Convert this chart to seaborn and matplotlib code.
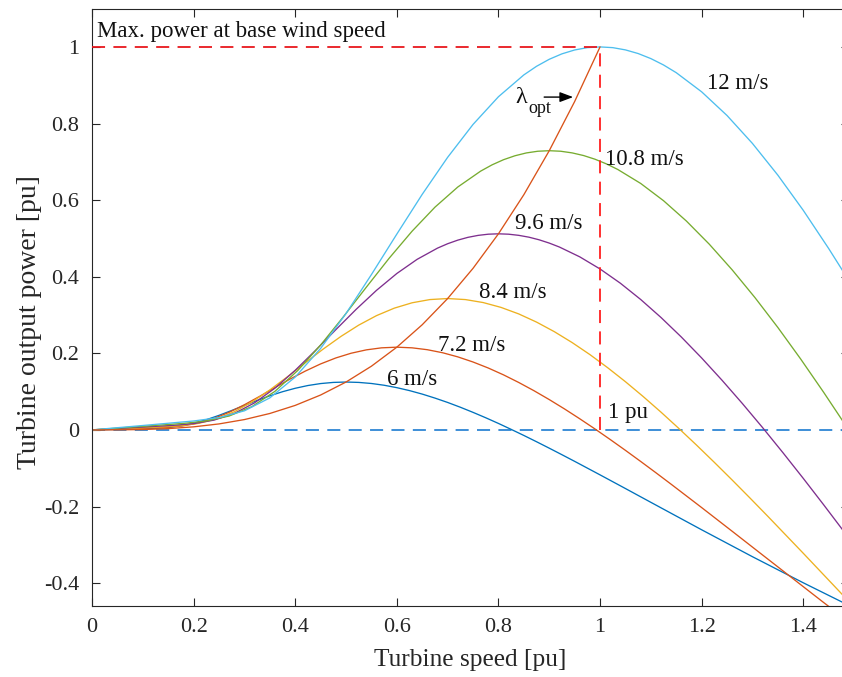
import matplotlib
matplotlib.use("Agg")
import matplotlib.pyplot as plt
import seaborn as sns
import pandas as pd

# ---------------- data ----------------
x_12 = [0, 0.1, 0.2, 0.25, 0.3, 0.35, 0.4, 0.45, 0.5, 0.55, 0.6, 0.65, 0.7, 0.75, 0.8,
        0.85, 0.875, 0.9, 0.925, 0.95, 0.975, 1.0, 1.025, 1.05, 1.075, 1.1, 1.125, 1.15,
        1.2, 1.25, 1.3, 1.35, 1.4, 1.45, 1.476, 1.5]
p_12 = [0, 0.0115, 0.0233, 0.0321, 0.0498, 0.0836, 0.1380, 0.2127, 0.3039, 0.4056, 0.5113,
        0.6151, 0.7117, 0.7976, 0.8699, 0.9269, 0.9494, 0.9677, 0.9819, 0.9920, 0.9981, 1.0,
        0.9981, 0.9922, 0.9827, 0.9695, 0.9528, 0.9327, 0.8827, 0.8208, 0.7479, 0.6651,
        0.5733, 0.4736, 0.4189, 0.3668]

x_108 = [0, 0.09, 0.18, 0.225, 0.27, 0.315, 0.36, 0.405, 0.45, 0.495, 0.54, 0.585, 0.63, 0.675,
         0.72, 0.765, 0.7875, 0.81, 0.8325, 0.855, 0.8775, 0.9, 0.9225, 0.945, 0.9675, 0.99,
         1.0125, 1.035, 1.08, 1.125, 1.17, 1.215, 1.26, 1.305, 1.35, 1.395, 1.44, 1.476, 1.5]
p_108 = [0, 0.0084, 0.0170, 0.0234, 0.0363, 0.0610, 0.1006, 0.1551, 0.2216, 0.2957, 0.3727,
         0.4484, 0.5188, 0.5815, 0.6342, 0.6757, 0.6921, 0.7055, 0.7158, 0.7232, 0.7276, 0.729,
         0.7276, 0.7233, 0.7164, 0.7068, 0.6946, 0.6799, 0.6435, 0.5984, 0.5453, 0.4849,
         0.4180, 0.3453, 0.2674, 0.1849, 0.0984, 0.0267, -0.0223]

x_96 = [0, 0.08, 0.16, 0.2, 0.24, 0.28, 0.32, 0.36, 0.4, 0.44, 0.48, 0.52, 0.56, 0.6, 0.64,
        0.68, 0.7, 0.72, 0.74, 0.76, 0.78, 0.8, 0.82, 0.84, 0.86, 0.88, 0.9, 0.92, 0.96, 1.0,
        1.04, 1.08, 1.12, 1.16, 1.2, 1.24, 1.28, 1.32, 1.36, 1.4, 1.44, 1.476, 1.5]
p_96 = [0, 0.0059, 0.0119, 0.0164, 0.0255, 0.0428, 0.0707, 0.1089, 0.1556, 0.2077, 0.2618,
        0.3149, 0.3644, 0.4084, 0.4454, 0.4746, 0.4861, 0.4955, 0.5028, 0.5079, 0.5110, 0.512,
        0.5110, 0.5080, 0.5032, 0.4964, 0.4878, 0.4775, 0.4519, 0.4202, 0.3830, 0.3405,
        0.2935, 0.2425, 0.1878, 0.1298, 0.0691, 0.0059, -0.0595, -0.1266, -0.1953, -0.2583,
        -0.3007]

x_84 = [0, 0.07, 0.14, 0.175, 0.21, 0.245, 0.28, 0.315, 0.35, 0.385, 0.42, 0.455, 0.49, 0.525,
        0.56, 0.595, 0.63, 0.665, 0.7, 0.735, 0.77, 0.805, 0.84, 0.875, 0.91, 0.945, 0.98,
        1.015, 1.05, 1.085, 1.12, 1.155, 1.19, 1.225, 1.26, 1.295, 1.33, 1.4, 1.47, 1.5]
p_84 = [0, 0.0039, 0.0080, 0.0110, 0.0171, 0.0287, 0.0473, 0.0730, 0.1043, 0.1391, 0.1754,
        0.2110, 0.2441, 0.2736, 0.2984, 0.3179, 0.3319, 0.3403, 0.343, 0.3403, 0.3325, 0.3199,
        0.3028, 0.2815, 0.2565, 0.2281, 0.1967, 0.1624, 0.1258, 0.0870, 0.0463, 0.0039,
        -0.0398, -0.0848, -0.1308, -0.1777, -0.2253, -0.3221, -0.4202, -0.4624]

x_72 = [0, 0.06, 0.12, 0.15, 0.18, 0.21, 0.24, 0.27, 0.3, 0.33, 0.36, 0.39, 0.42, 0.45, 0.48,
        0.51, 0.54, 0.57, 0.6, 0.63, 0.66, 0.69, 0.72, 0.75, 0.78, 0.81, 0.84, 0.87, 0.9, 0.93,
        0.96, 0.99, 1.02, 1.05, 1.08, 1.11, 1.14, 1.2, 1.26, 1.32, 1.44, 1.56]
p_72 = [0, 0.0025, 0.0050, 0.0069, 0.0108, 0.0181, 0.0298, 0.0460, 0.0657, 0.0876, 0.1104,
        0.1329, 0.1537, 0.1723, 0.1879, 0.2002, 0.2090, 0.2143, 0.216, 0.2143, 0.2094, 0.2015,
        0.1907, 0.1773, 0.1616, 0.1437, 0.1238, 0.1023, 0.0792, 0.0548, 0.0291, 0.0025,
        -0.0251, -0.0534, -0.0824, -0.1119, -0.1419, -0.2028, -0.2646, -0.3267, -0.4506, -0.5721]

x_6 = [0, 0.05, 0.1, 0.125, 0.15, 0.175, 0.2, 0.225, 0.25, 0.275, 0.3, 0.325, 0.35, 0.375, 0.4,
       0.425, 0.45, 0.475, 0.5, 0.525, 0.55, 0.575, 0.6, 0.625, 0.65, 0.675, 0.7, 0.725, 0.75,
       0.775, 0.8, 0.825, 0.85, 0.875, 0.9, 0.925, 0.95, 1.0, 1.05, 1.1, 1.2, 1.3, 1.4, 1.476, 1.5]
p_6 = [0, 0.0014, 0.0029, 0.0040, 0.0062, 0.0105, 0.0173, 0.0266, 0.0380, 0.0507, 0.0639,
       0.0769, 0.0890, 0.0997, 0.1087, 0.1159, 0.1210, 0.1240, 0.125, 0.1240, 0.1212, 0.1166,
       0.1103, 0.1026, 0.0935, 0.0831, 0.0717, 0.0592, 0.0458, 0.0317, 0.0169, 0.0014, -0.0145,
       -0.0309, -0.0477, -0.0648, -0.0821, -0.1174, -0.1531, -0.1891, -0.2608, -0.3311,
       -0.3992, -0.4492, -0.4647]

x_opt = [0, 0.05, 0.1, 0.15, 0.2, 0.25, 0.3, 0.35, 0.4, 0.45, 0.5, 0.55, 0.6, 0.65, 0.7, 0.75,
         0.8, 0.85, 0.9, 0.95, 1.0]
p_opt = [0, 0.000125, 0.001, 0.003375, 0.008, 0.015625, 0.027, 0.042875, 0.064, 0.091125,
         0.125, 0.166375, 0.216, 0.274625, 0.343, 0.421875, 0.512, 0.614125, 0.729, 0.857375, 1.0]

curve_names = ["6 m/s", "7.2 m/s", "8.4 m/s", "9.6 m/s", "10.8 m/s", "12 m/s", "opt"]
curve_x = [x_6, x_72, x_84, x_96, x_108, x_12, x_opt]
curve_p = [p_6, p_72, p_84, p_96, p_108, p_12, p_opt]

x_ticks = [0, 0.2, 0.4, 0.6, 0.8, 1.0, 1.2, 1.4]
x_tick_labels = ["0", "0.2", "0.4", "0.6", "0.8", "1", "1.2", "1.4"]
y_ticks = [-0.4, -0.2, 0, 0.2, 0.4, 0.6, 0.8, 1.0]
y_tick_labels = ["-0.4", "-0.2", "0", "0.2", "0.4", "0.6", "0.8", "1"]

# ---------------- styling ----------------
sns.set_style("ticks")
plt.rcParams["font.family"] = ["Liberation Serif", "DejaVu Serif"]
plt.rcParams["lines.scale_dashes"] = False

palette = {
    "6 m/s": "#0072BD",
    "7.2 m/s": "#D95319",
    "8.4 m/s": "#EDB120",
    "9.6 m/s": "#7E2F8E",
    "10.8 m/s": "#77AC30",
    "12 m/s": "#4DBEEE",
    "opt": "#D95319",
}

rows = []
for name, xs, ps in zip(curve_names, curve_x, curve_p):
    for xv, pv in zip(xs, ps):
        rows.append({"curve": name, "speed": xv, "power": pv})
df = pd.DataFrame(rows)

fig = plt.figure(figsize=(8.42, 6.77), dpi=100)
ax = fig.add_axes([0.10926, 0.10532, 0.89905, 0.88139])

# reference dashed lines
dash = (0, (9.4, 6.0))
ax.plot([0, 1.49], [0, 0], color="#2E86D4", lw=1.3, linestyle=dash, zorder=1)
ax.plot([0, 1], [1, 1], color="#E8181E", lw=1.3, linestyle=dash, zorder=3)
ax.plot([1, 1], [0, 1], color="#FF2020", lw=1.3, linestyle=dash, zorder=3)

sns.lineplot(data=df, x="speed", y="power", hue="curve", palette=palette,
             estimator=None, sort=False, legend=False, lw=0.95, ax=ax, zorder=2)

ax.set_xlim(0, 1.49)
ax.set_ylim(-0.459, 1.099)
ax.set_xticks(x_ticks)
ax.set_xticklabels(x_tick_labels)
ax.set_yticks(y_ticks)
ax.set_yticklabels(y_tick_labels)
ax.tick_params(direction="in", length=5.8, width=0.8, colors="#262626",
               labelsize=16, top=True, right=True, pad=9, labelcolor="#262626")
for s in ax.spines.values():
    s.set_color("#262626")
    s.set_linewidth(0.8)

ax.set_xlabel("Turbine speed [pu]", fontsize=18.3, color="#262626")
ax.set_ylabel("Turbine output power [pu]", fontsize=20, color="#262626")
ax.xaxis.label.set_va("center")
ax.yaxis.label.set_va("center")
ax.xaxis.set_label_coords(0.4993, -0.091)
ax.yaxis.set_label_coords(-0.083, 0.4755)

txt_kw = dict(fontsize=16.5, color="#111111", va="baseline", ha="left")
ax.text(0.010, 1.026, "Max. power at base wind speed", **txt_kw)
ax.text(1.211, 0.890, "12 m/s", **txt_kw)
ax.text(1.010, 0.692, "10.8 m/s", **txt_kw)
ax.text(0.833, 0.525, "9.6 m/s", **txt_kw)
ax.text(0.762, 0.345, "8.4 m/s", **txt_kw)
ax.text(0.681, 0.206, "7.2 m/s", **txt_kw)
ax.text(0.581, 0.117, "6 m/s", **txt_kw)
ax.text(1.016, 0.031, "1 pu", **txt_kw)
ax.text(0.833, 0.854, "λ", fontsize=17.5, color="#111111", va="baseline", ha="left")
ax.text(0.858, 0.828, "opt", fontsize=13, color="#111111", va="baseline", ha="left")
ax.annotate("", xy=(0.947, 0.869), xytext=(0.890, 0.869),
            arrowprops=dict(arrowstyle="-|>,head_length=0.8,head_width=0.3",
                            color="black", lw=1.0, shrinkA=0, shrinkB=0))

fig.savefig("out.png", dpi=100)
